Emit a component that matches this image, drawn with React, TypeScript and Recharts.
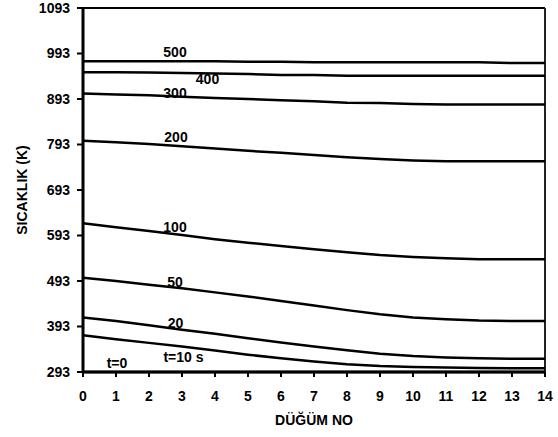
import { LineChart, Line, XAxis, YAxis, ReferenceLine } from 'recharts';

const nodes = [0, 1, 2, 3, 4, 5, 6, 7, 8, 9, 10, 11, 12, 13, 14];
const yTicks = [293, 393, 493, 593, 693, 793, 893, 993, 1093];

// temperatures (K) per node for each time
const t0 = [293, 293, 293, 293, 293, 293, 293, 293, 293, 293, 293, 293, 293, 293, 293];
const t10 = [374, 365, 357, 349, 340, 331, 323, 316, 310, 306, 304, 303, 302, 301, 301];
const t20 = [413, 405, 396, 386, 377, 367, 358, 349, 341, 333, 328, 325, 323, 322, 322];
const t50 = [500, 493, 485, 477, 468, 459, 449, 439, 429, 420, 413, 409, 406, 405, 405];
const t100 = [620, 611, 603, 594, 585, 577, 570, 563, 556, 550, 546, 543, 541, 541, 541];
const t200 = [801, 798, 794, 789, 784, 779, 775, 770, 765, 761, 758, 756, 756, 756, 756];
const t300 = [905, 903, 901, 898, 895, 893, 890, 888, 885, 884, 882, 881, 881, 881, 881];
const t400 = [952, 952, 951, 950, 949, 948, 946, 946, 944, 944, 944, 944, 944, 944, 944];
const t500 = [976, 976, 976, 976, 976, 975, 975, 974, 974, 974, 974, 974, 974, 972, 972];

const data = nodes.map((n, i) => ({
  node: n,
  t0: t0[i],
  t10: t10[i],
  t20: t20[i],
  t50: t50[i],
  t100: t100[i],
  t200: t200[i],
  t300: t300[i],
  t400: t400[i],
  t500: t500[i],
}));

const FONT = '"Liberation Sans", Arial, sans-serif';

// label drawn at one point of the curve, offset a bit
const curveLabel = (text: string, idx: number, dx: number, dy: number) => (props: any) => {
  if (props.index !== idx) return null;
  const x = props.x ?? props.viewBox?.x;
  const y = props.y ?? props.viewBox?.y;
  return (
    <text x={x + dx} y={y + dy} textAnchor="middle" fontFamily={FONT} fontWeight="bold" fontSize={14} fill="#000">
      {text}
    </text>
  );
};

const series = [
  { key: 't0', label: curveLabel('t=0', 1, 1, -4) },
  { key: 't10', label: curveLabel('t=10 s', 3, 1.5, 15) },
  { key: 't20', label: curveLabel('20', 3, -6.5, -2) },
  { key: 't50', label: curveLabel('50', 3, -7, -1) },
  { key: 't100', label: curveLabel('100', 3, -7, -3) },
  { key: 't200', label: curveLabel('200', 3, -6, -4) },
  { key: 't300', label: curveLabel('300', 3, -7, 1) },
  { key: 't400', label: curveLabel('400', 4, -7.5, 10) },
  { key: 't500', label: curveLabel('500', 3, -7, -4) },
];

const tickStyle = { fontFamily: FONT, fontWeight: 'bold', fontSize: 14, fill: '#000' };

export default function App() {
  return (
    <div style={{ position: 'absolute', left: 0, top: 0, background: '#fff' }}>
      <LineChart width={558} height={437} data={data} margin={{ top: 8, right: 13, bottom: 10, left: 0 }}>
        <XAxis
          dataKey="node"
          type="number"
          domain={[0, 14]}
          ticks={nodes}
          interval={0}
          height={55}
          tickSize={5}
          tickMargin={14}
          tick={tickStyle}
          axisLine={{ stroke: '#000', strokeWidth: 3 }}
          tickLine={{ stroke: '#000', strokeWidth: 2 }}
          label={{ value: 'DÜĞÜM NO', position: 'insideBottom', offset: 2, style: tickStyle }}
        />
        <YAxis
          type="number"
          domain={[293, 1093]}
          ticks={yTicks}
          interval={0}
          width={83}
          tickSize={6}
          tickMargin={7}
          tick={tickStyle}
          axisLine={{ stroke: '#000', strokeWidth: 3 }}
          tickLine={{ stroke: '#000', strokeWidth: 2 }}
          label={{ value: 'SICAKLIK (K)', angle: -90, position: 'insideLeft', offset: 22, style: { ...tickStyle, textAnchor: 'middle' } }}
        />
        <ReferenceLine y={1093} stroke="#000" strokeWidth={2} ifOverflow="visible" />
        <ReferenceLine x={14} stroke="#222" strokeWidth={2} ifOverflow="visible" />
        {series.map((s) => (
          <Line
            key={s.key}
            dataKey={s.key}
            type="linear"
            stroke="#000"
            strokeWidth={2.5}
            dot={false}
            label={s.label}
            isAnimationActive={false}
          />
        ))}
      </LineChart>
    </div>
  );
}
